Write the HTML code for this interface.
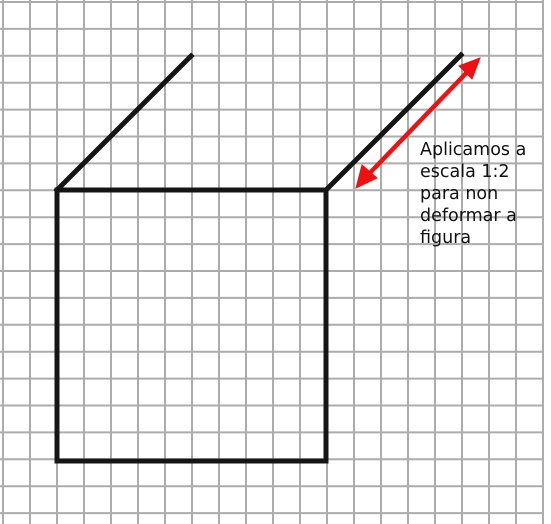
<!DOCTYPE html>
<html><head><meta charset="utf-8"><style>
html,body{margin:0;padding:0;background:#fff;}
svg{display:block;}
</style></head><body>
<svg width="551" height="524" viewBox="0 0 551 524">
<g id="grid" stroke="#acacac" stroke-width="2"></g>
<g stroke="#151515" stroke-width="5" fill="none" stroke-linecap="square">
<rect x="57" y="190" width="269" height="271"/>
<line x1="57" y1="190" x2="191" y2="56"/>
<line x1="326" y1="190" x2="461" y2="55"/>
</g>
<g fill="#ee1111" stroke="#ee1111">
<line x1="364" y1="179" x2="473" y2="66" stroke-width="4.5"/>
<polygon points="480,58 459,66 472,79" stroke-width="1"/>
<polygon points="356,188 362,165 377,178" stroke-width="1"/>
</g>
<text font-family="DejaVu Sans, Liberation Sans, sans-serif" font-size="17.5" fill="#111">
<tspan x="420" y="155">Aplicamos a</tspan>
<tspan x="420" y="177">escala 1:2</tspan>
<tspan x="420" y="199">para non</tspan>
<tspan x="420" y="221">deformar a</tspan>
<tspan x="420" y="243">figura</tspan>
</text>
</svg>
<script>
const g=document.getElementById('grid');
const ns='http://www.w3.org/2000/svg';
for(let k=0;k<=20;k++){const x=3+27*k;const l=document.createElementNS(ns,'line');


l.setAttribute('x1',x);l.setAttribute('x2',x);l.setAttribute('y1',0);l.setAttribute('y2',524);g.appendChild(l);}
for(let k=0;k<=19;k++){const y=2+26.9*k;const l=document.createElementNS(ns,'line');


l.setAttribute('y1',y);l.setAttribute('y2',y);l.setAttribute('x1',0);l.setAttribute('x2',544);g.appendChild(l);}
</script>
</body></html>
